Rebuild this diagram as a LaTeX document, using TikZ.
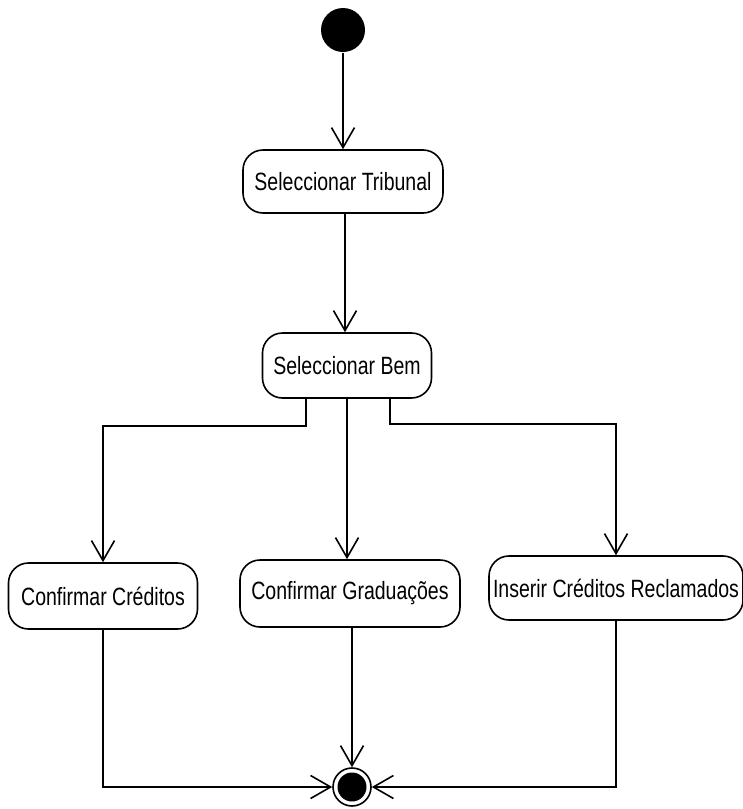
\documentclass[tikz,border=0pt]{standalone}
\usepackage{fontspec}
\setmainfont{Liberation Sans}[FakeStretch=0.78]
\usetikzlibrary{arrows.meta}
\begin{document}
\begin{tikzpicture}[x=1pt,y=-1pt,
  line width=1.6pt,
  activity/.style={draw, rounded corners=20pt, inner sep=0pt, align=center,
    font=\fontsize{25}{30}\selectfont},
  flow/.style={-{Straight Barb[length=20pt,width=23pt,line width=1.6pt]}},
  startnode/.style={circle, fill=black, minimum size=44pt, inner sep=0pt},
  endnode/.style={circle, draw, minimum size=38pt, inner sep=0pt}]
  \useasboundingbox (0,0) rectangle (743,809);

  % states
  \node[startnode] (start) at (343,30) {};
  \node[activity, minimum width=200pt, minimum height=63pt] (trib) at (343,181.5) {Seleccionar Tribunal};
  \node[activity, minimum width=169pt, minimum height=65pt] (bem) at (347,365.5) {Seleccionar Bem};
  \node[activity, minimum width=189pt, minimum height=66pt] (cred) at (103,596) {Confirmar Créditos};
  \node[activity, minimum width=220pt, minimum height=67pt] (grad) at (350,593.5) {Confirmar Graduações};
  \node[activity, minimum width=254pt, minimum height=64pt] (ins) at (616,588) {Inserir Créditos Reclamados};
  \node[endnode] (end) at (352,787) {};
  \fill (end.center) circle (14.5);

  % transitions
  \draw[flow] (start) -- (start |- trib.north);
  \draw[flow] (trib.south -| 345,0) -- (bem.north -| 345,0);
  \coordinate (bl) at (306,426);
  \coordinate (br) at (390,424);
  \draw[flow] (bem.south -| bl) -- (bl) -| (cred.north);
  \draw[flow] (bem.south) -- (grad.north -| bem.south);
  \draw[flow] (bem.south -| br) -- (br) -| (ins.north);
  \draw[flow] (cred.south) |- (end.west);
  \draw[flow] (grad.south -| end) -- (end.north);
  \draw[flow] (ins.south) |- (end.east);
\end{tikzpicture}
\end{document}
